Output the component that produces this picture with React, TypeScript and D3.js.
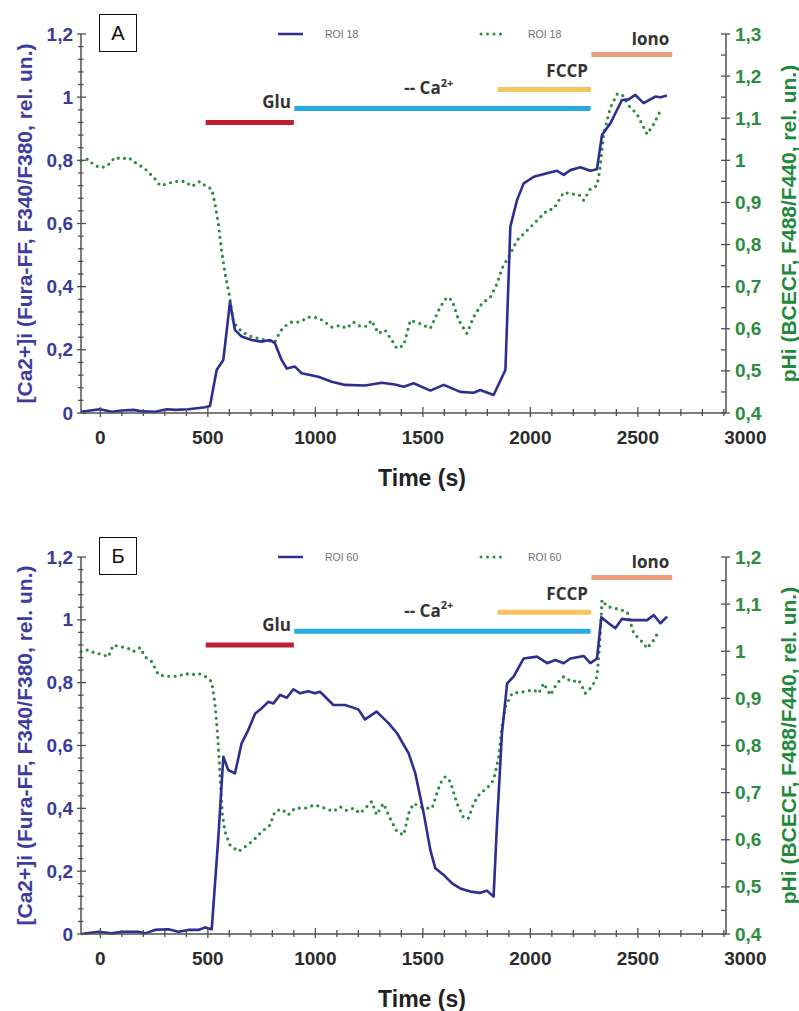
import React from 'react'
import * as d3 from 'd3'

// time in s
const timeTicks = [0, 500, 1000, 1500, 2000, 2500, 3000]
const caTicks = [0, 0.2, 0.4, 0.6, 0.8, 1, 1.2]
const phTicksA = [0.4, 0.5, 0.6, 0.7, 0.8, 0.9, 1, 1.1, 1.2, 1.3]
const phTicksB = [0.4, 0.5, 0.6, 0.7, 0.8, 0.9, 1, 1.1, 1.2]

// [Ca2+]i, ROI 18 (panel A)
const caA: [number, number][] = [
  [-90, 0.004], [-2, 0.012], [53, 0.004], [100, 0.008], [153, 0.01], [200, 0.005], [254, 0.004],
  [309, 0.012], [350, 0.01], [409, 0.012], [460, 0.016], [487, 0.018], [510, 0.022], [541, 0.136],
  [572, 0.168], [603, 0.352], [626, 0.263], [657, 0.242], [704, 0.231], [750, 0.226], [789, 0.231],
  [812, 0.221], [843, 0.168], [867, 0.141], [905, 0.147], [936, 0.126], [1014, 0.115], [1076, 0.099],
  [1138, 0.089], [1231, 0.087], [1309, 0.096], [1370, 0.09], [1411, 0.083], [1457, 0.094],
  [1535, 0.071], [1597, 0.089], [1674, 0.067], [1736, 0.064], [1767, 0.073], [1829, 0.057],
  [1884, 0.136], [1907, 0.59], [1938, 0.674], [1969, 0.727], [2016, 0.748], [2078, 0.759],
  [2124, 0.767], [2155, 0.754], [2186, 0.769], [2233, 0.778], [2279, 0.767], [2310, 0.772],
  [2333, 0.88], [2372, 0.917], [2426, 0.991], [2457, 0.993], [2488, 1.007], [2527, 0.981],
  [2581, 1.002], [2605, 1.0], [2636, 1.005],
]

// pHi, ROI 18 (panel A)
const phA: [number, number][] = [
  [-90, 0.999], [-56, 1.003], [-33, 0.99], [-2, 0.983], [29, 0.985], [68, 1.007], [99, 1.003],
  [130, 1.007], [161, 0.995], [208, 0.98], [254, 0.956], [278, 0.94], [309, 0.944], [347, 0.95],
  [394, 0.95], [425, 0.938], [463, 0.95], [487, 0.94], [518, 0.932], [533, 0.897], [549, 0.849],
  [564, 0.786], [580, 0.731], [599, 0.683], [619, 0.616], [657, 0.593], [704, 0.581], [766, 0.573],
  [812, 0.569], [828, 0.585], [851, 0.604], [890, 0.616], [929, 0.616], [967, 0.628], [1014, 0.626],
  [1045, 0.616], [1076, 0.604], [1115, 0.608], [1146, 0.601], [1177, 0.616], [1208, 0.606],
  [1239, 0.606], [1262, 0.62], [1293, 0.589], [1324, 0.597], [1355, 0.573], [1380, 0.553],
  [1411, 0.561], [1442, 0.62], [1488, 0.612], [1535, 0.601], [1581, 0.652], [1612, 0.675],
  [1636, 0.668], [1667, 0.62], [1705, 0.589], [1736, 0.628], [1775, 0.66], [1814, 0.675],
  [1845, 0.707], [1868, 0.743], [1907, 0.778], [1938, 0.81], [1984, 0.833], [2031, 0.857],
  [2078, 0.881], [2109, 0.885], [2155, 0.924], [2194, 0.92], [2225, 0.919], [2248, 0.905],
  [2279, 0.932], [2310, 0.94], [2323, 0.976], [2341, 1.062], [2372, 1.125], [2403, 1.157],
  [2426, 1.157], [2457, 1.13], [2496, 1.11], [2543, 1.062], [2574, 1.086], [2605, 1.118],
]

// [Ca2+]i, ROI 60 (panel B)
const caB: [number, number][] = [
  [-90, 0.0], [-9, 0.007], [53, 0.002], [99, 0.007], [177, 0.007], [208, 0.002], [254, 0.013],
  [316, 0.015], [363, 0.007], [409, 0.013], [456, 0.013], [487, 0.021], [518, 0.015], [549, 0.31],
  [572, 0.564], [595, 0.522], [626, 0.511], [657, 0.607], [688, 0.649], [720, 0.702], [750, 0.718],
  [781, 0.739], [805, 0.734], [836, 0.761], [867, 0.752], [898, 0.779], [929, 0.766], [967, 0.773],
  [998, 0.766], [1022, 0.771], [1084, 0.729], [1138, 0.729], [1200, 0.715], [1231, 0.683],
  [1285, 0.708], [1340, 0.671], [1380, 0.639], [1434, 0.575], [1465, 0.511], [1504, 0.384],
  [1535, 0.267], [1558, 0.209], [1597, 0.188], [1636, 0.161], [1674, 0.145], [1721, 0.135],
  [1767, 0.131], [1798, 0.138], [1829, 0.119], [1845, 0.352], [1868, 0.639], [1892, 0.798],
  [1922, 0.819], [1969, 0.877], [2031, 0.883], [2078, 0.862], [2116, 0.872], [2155, 0.862],
  [2186, 0.877], [2248, 0.885], [2279, 0.862], [2310, 0.877], [2330, 1.008], [2364, 0.989],
  [2395, 0.973], [2426, 1.003], [2465, 0.999], [2543, 0.999], [2574, 1.015], [2605, 0.989],
  [2636, 1.01],
]

// pHi, ROI 60 (panel B)
const phB: [number, number][] = [
  [-90, 0.999], [-56, 1.003], [-25, 0.996], [6, 0.994], [37, 0.988], [60, 1.013], [92, 1.01],
  [130, 1.006], [153, 0.999], [185, 1.008], [208, 0.988], [239, 0.978], [270, 0.95], [316, 0.947],
  [363, 0.947], [394, 0.953], [425, 0.95], [456, 0.953], [495, 0.945], [518, 0.935], [533, 0.89],
  [546, 0.819], [557, 0.734], [567, 0.656], [580, 0.617], [603, 0.589], [642, 0.575], [673, 0.585],
  [712, 0.599], [750, 0.617], [789, 0.631], [812, 0.66], [843, 0.665], [874, 0.653], [905, 0.667],
  [952, 0.667], [998, 0.674], [1045, 0.667], [1084, 0.66], [1115, 0.67], [1146, 0.662],
  [1177, 0.667], [1208, 0.656], [1239, 0.67], [1262, 0.681], [1285, 0.653], [1316, 0.677],
  [1347, 0.646], [1380, 0.617], [1411, 0.61], [1434, 0.656], [1457, 0.677], [1504, 0.667],
  [1543, 0.667], [1581, 0.72], [1605, 0.734], [1628, 0.723], [1659, 0.677], [1690, 0.646],
  [1713, 0.646], [1736, 0.677], [1767, 0.699], [1798, 0.709], [1829, 0.727], [1853, 0.776],
  [1868, 0.84], [1884, 0.882], [1915, 0.911], [1969, 0.914], [2016, 0.918], [2039, 0.911],
  [2062, 0.932], [2093, 0.907], [2124, 0.932], [2155, 0.946], [2194, 0.935], [2225, 0.939],
  [2256, 0.911], [2287, 0.925], [2310, 0.946], [2323, 1.017], [2333, 1.109], [2357, 1.095],
  [2395, 1.091], [2450, 1.084], [2481, 1.038], [2527, 1.017], [2543, 1.006], [2574, 1.024],
  [2601, 1.045],
]

// application periods (s)
const treatments = [
  { label: 'Glu', start: 490, end: 900 },
  { label: '-- Ca', start: 902, end: 2280 },
  { label: 'FCCP', start: 1848, end: 2282 },
  { label: 'Iono', start: 2284, end: 2660 },
]

const barStyle: Record<string, { level: number; textLevel: number; color: string }> = {
  'Glu': { level: 0.92, textLevel: 0.985, color: '#be1e2d' },
  '-- Ca': { level: 0.964, textLevel: 1.03, color: '#27aae1' },
  'FCCP': { level: 1.024, textLevel: 1.083, color: '#f7c35f' },
  'Iono': { level: 1.135, textLevel: 1.187, color: '#eb9f7e' },
}

const BLUE = '#2d2d92'
const GREEN = '#2a8c3e'
const AXIS = '#505050'
const SANS = '"Liberation Sans", Arial, sans-serif'

const x = d3.scaleLinear().domain([-90, 2910]).range([81, 726])

const fmt = (v: number) => (Math.round(v * 10) / 10).toString().replace('.', ',')

function Panel({ top, bottom, ca, ph, phTicks, letter, roi }: {
  top: number; bottom: number; ca: [number, number][]; ph: [number, number][]
  phTicks: number[]; letter: string; roi: string
}) {
  const phMax = phTicks[phTicks.length - 1]
  const yL = d3.scaleLinear().domain([0, 1.2]).range([bottom, top])
  const yR = d3.scaleLinear().domain([0.4, phMax]).range([bottom, top])
  const caLine = d3.line<[number, number]>().x(d => x(d[0])).y(d => yL(d[1]))
  const phLine = d3.line<[number, number]>().x(d => x(d[0])).y(d => yR(d[1]))
  const [x0, x1] = x.range()
  const minorX = d3.range(0, 2901, 100)
  const minorL = d3.range(0, 1.2001, 0.04)
  const minorR = d3.range(0.4, phMax + 0.001, 0.05)
  const midY = (top + bottom) / 2
  return (
    <g>
      {/* panel letter */}
      <rect x={99.5} y={top - 19.5} width={37} height={37} fill="white" stroke="#111" strokeWidth={1} />
      <text x={118} y={top - 1} textAnchor="middle" dominantBaseline="central" fontSize={20} fontFamily={SANS} fill="#111">{letter}</text>

      {/* legend */}
      <line x1={278} x2={303} y1={top} y2={top} stroke={BLUE} strokeWidth={2.5} />
      <text x={325} y={top} dominantBaseline="central" fontSize={10.5} fontFamily={SANS} fill="#707070">{roi}</text>
      <line x1={481} x2={505} y1={top} y2={top} stroke={GREEN} strokeWidth={3} strokeDasharray="0 6.5" strokeLinecap="round" />
      <text x={528} y={top} dominantBaseline="central" fontSize={10.5} fontFamily={SANS} fill="#707070">{roi}</text>

      {/* treatment bars */}
      {treatments.map(t => {
        const s = barStyle[t.label]
        const isCa = t.label === '-- Ca'
        return (
          <g key={t.label}>
            <line x1={x(t.start)} x2={x(t.end)} y1={yL(s.level)} y2={yL(s.level)} stroke={s.color} strokeWidth={5} />
            <text x={isCa ? x(t.start) + 110 : x(t.end) - 3} y={yL(s.textLevel)} textAnchor={isCa ? 'start' : 'end'}
              dominantBaseline="central" fontSize={17} fontWeight="bold" fontFamily='"Open Sans", sans-serif' fill="#333">
              {t.label}{isCa && <tspan fontSize={11} dy={-6}>2+</tspan>}
            </text>
          </g>
        )
      })}

      {/* series */}
      <path d={phLine(ph) || ''} fill="none" stroke={GREEN} strokeWidth={3.2} strokeDasharray="0 6.4" strokeLinecap="round" />
      <path d={caLine(ca) || ''} fill="none" stroke={BLUE} strokeWidth={2.6} strokeLinejoin="round" />

      {/* x axis */}
      <line x1={x0} x2={x1} y1={bottom} y2={bottom} stroke={AXIS} strokeWidth={1.5} />
      {minorX.map(v => (
        <line key={v} x1={x(v)} x2={x(v)} y1={bottom - (v % 500 === 0 ? 6 : 4)} y2={bottom + (v % 500 === 0 ? 4 : 3)} stroke={AXIS} strokeWidth={1.3} />
      ))}
      {timeTicks.map(v => (
        <text key={v} x={x(v)} y={bottom + 24} textAnchor="middle" dominantBaseline="central" fontSize={19} fontWeight="bold" fontFamily={SANS} fill="#2b2b2b">{v}</text>
      ))}
      <text x={422} y={bottom + 65} textAnchor="middle" dominantBaseline="central" fontSize={23} fontWeight="bold" fontFamily={SANS} fill="#222">Time (s)</text>

      {/* left axis */}
      <line x1={x0} x2={x0} y1={bottom} y2={top} stroke={AXIS} strokeWidth={1.5} />
      {minorL.map((v, i) => (
        <line key={i} x1={x0 - (i % 5 === 0 ? 4 : 3)} x2={x0 + (i % 5 === 0 ? 5 : 2.5)} y1={yL(v)} y2={yL(v)} stroke={AXIS} strokeWidth={1.3} />
      ))}
      {caTicks.map(v => (
        <text key={v} x={73} y={yL(v)} textAnchor="end" dominantBaseline="central" fontSize={19} fontWeight="bold" fontFamily={SANS} fill="#3a3a98">{fmt(v)}</text>
      ))}
      <text transform={`translate(24,${midY}) rotate(-90)`} textAnchor="middle" dominantBaseline="central" fontSize={21} fontWeight="bold" fontFamily={SANS} fill="#3d3d9e">
        [Ca2+]i (Fura-FF, F340/F380, rel. un.)
      </text>

      {/* right axis */}
      <line x1={x1} x2={x1} y1={bottom} y2={top} stroke={AXIS} strokeWidth={1.5} />
      {minorR.map((v, i) => (
        <line key={i} x1={x1 - 5} x2={x1 + (i % 2 === 0 ? 4 : 0)} y1={yR(v)} y2={yR(v)} stroke={AXIS} strokeWidth={1.3} />
      ))}
      {phTicks.map(v => (
        <text key={v} x={735} y={yR(v)} textAnchor="start" dominantBaseline="central" fontSize={19} fontWeight="bold" fontFamily={SANS} fill={GREEN}>{fmt(v)}</text>
      ))}
      <text transform={`translate(788,${midY}) rotate(-90)`} textAnchor="middle" dominantBaseline="central" fontSize={21} fontWeight="bold" fontFamily={SANS} fill="#21893a">
        pHi (BCECF, F488/F440, rel. un.)
      </text>
    </g>
  )
}

export default function App() {
  return (
    <div style={{ position: 'absolute', left: 0, top: 0 }}>
      <svg width={799} height={1011} style={{ display: 'block', background: 'white' }}>
        <Panel top={34} bottom={413} ca={caA} ph={phA} phTicks={phTicksA} letter="А" roi="ROI 18" />
        <Panel top={557} bottom={934} ca={caB} ph={phB} phTicks={phTicksB} letter="Б" roi="ROI 60" />
      </svg>
    </div>
  )
}
